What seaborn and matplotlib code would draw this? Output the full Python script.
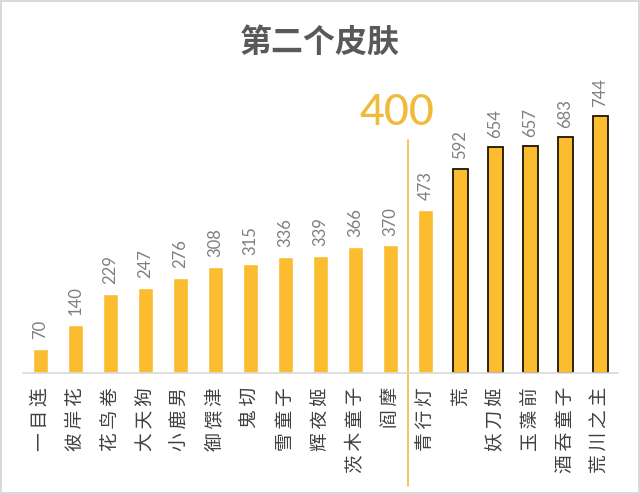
import matplotlib
matplotlib.use("Agg")
import matplotlib.pyplot as plt
import seaborn as sns
import pandas as pd

# ── Data ──
names = ["一目连", "彼岸花", "花鸟卷", "大天狗", "小鹿男", "御馔津", "鬼切", "雪童子", "辉夜姬",
         "茨木童子", "阎摩", "青行灯", "荒", "妖刀姬", "玉藻前", "酒吞童子", "荒川之主"]
values = [70, 140, 229, 247, 276, 308, 315, 336, 339, 366, 370, 473, 592, 654, 657, 683, 744]
outlined = [False] * 12 + [True] * 5
threshold_label = "400"

BAR = "#FBBC30"
LINE = "#F2BA3A"
GRAY = "#7f7f7f"

sns.set_theme(style="white")
plt.rcParams['font.family'] = ['Noto Sans CJK SC', 'DejaVu Sans']

df = pd.DataFrame({"name": names, "value": values})

fig = plt.figure(figsize=(6.4, 4.94), dpi=100)
fig.patch.set_edgecolor("#d9d9d9")
fig.patch.set_linewidth(1.5)
ax = fig.add_axes([23 / 640, 121 / 494, 595 / 640, 276 / 494])

sns.barplot(data=df, x="name", y="value", color=BAR, saturation=1, width=0.43, ax=ax)

# ── Outline the top bars ──
for patch, flag in zip(ax.patches, outlined):
    if flag:
        patch.set_edgecolor("#1e1400")
        patch.set_linewidth(1.3)

ax.bar_label(ax.containers[0], labels=[str(v) for v in values], rotation=90, padding=7,
             color=GRAY, fontsize=12, family=["Lato", "DejaVu Sans"])

ax.set_xlim(-0.5, len(names) - 0.5)
ax.set_ylim(0, 800)
ax.set_yticks([])
ax.set_xlabel("")
ax.set_ylabel("")
ax.set_xticks(range(len(names)))
# thin spaces between characters to mimic the wider letter spacing
ax.set_xticklabels(["\u2009".join(n) for n in names], fontsize=13.5, color="#404040",
                   rotation=90, ha="center", va="top")
ax.tick_params(axis="x", length=0, pad=10)

for side in ["top", "left", "right"]:
    ax.spines[side].set_visible(False)
ax.spines["bottom"].set_color("#d9d9d9")
ax.spines["bottom"].set_linewidth(1.2)

# ── Divider line and label ──
ax.axvline(10.5, ymin=-0.41, ymax=0.844, color=LINE, lw=1.2, clip_on=False)
ax.text(10.2, 753, threshold_label, ha="center", va="center", fontsize=31, color=LINE,
        family=["Lato", "DejaVu Sans"], fontweight="medium")

fig.text(0.5, 1 - 43 / 494, "第二个皮肤", ha="center", va="center", fontsize=23,
         fontweight="bold", color="#595959")

fig.savefig("out.png", dpi=100)
